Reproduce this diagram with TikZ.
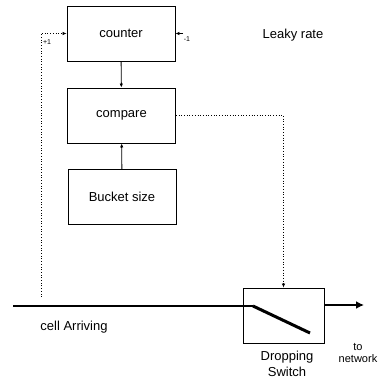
\documentclass[tikz,border=0pt]{standalone}
\usepackage{fontspec}
\setmainfont{Liberation Sans}
\usetikzlibrary{arrows.meta}
\begin{document}
\begin{tikzpicture}[x=1pt,y=-1pt,
  box/.style={draw, line width=0.9pt, minimum width=108pt, minimum height=55pt, inner sep=0pt, font=\fontsize{13}{15}\selectfont},
  lbl/.style={font=\fontsize{13}{16}\selectfont, inner sep=0pt, align=center},
  small/.style={font=\fontsize{7}{8}\selectfont, inner sep=0pt},
  dots/.style={dotted, line width=0.7pt},
  tip/.style={-{Latex[length=4pt,width=3.5pt]}},
  thick line/.style={line width=2.5pt}]
\useasboundingbox (0,0) rectangle (386,382);
\node[box] (counter) at (121,33.5) {counter};
\node[box] (compare) at (121.5,115.5) {compare};
\node[box] (bucket) at (122,197) {Bucket size};
\node[draw, line width=0.9pt, minimum width=81pt, minimum height=55pt, inner sep=0pt] (switch) at (283.5,315.5) {};
\draw[tip, line width=0.9pt] (counter) -- (compare);
\draw[tip, line width=0.9pt] (bucket) -- (compare);
\draw[dots, tip] (compare.east) -| (switch.north);
% main line
\coordinate (in) at (13,306);
\coordinate (sw1) at (253,306);
\coordinate (sw2) at (310,333);
\coordinate (out) at (364,305);
\draw[thick line] (in) -- (sw1);
\draw[line width=3pt] (sw1) -- (sw2);
\draw[thick line, -{Latex[length=8pt,width=8pt]}] (switch.east |- out) -- (out);
% feedback
\coordinate (fb) at (41,297);
\draw[dots, tip] (fb) |- (counter.west);
\coordinate (dec) at (183,33.5);
\draw[tip, line width=0.7pt] (dec) -- (counter.east);
\node[small] (plus) at (47,42) {+1};
\node[small] (minus) at (187,39) {-1};
\node[lbl] (leaky) at (293,35) {Leaky rate};
\node[lbl] (cell) at (74,327) {cell Arriving};
\node[lbl] (drop) at (287,363.5) {Dropping\\Switch};
\node[lbl, font=\fontsize{11}{12.5}\selectfont] (net) at (358,353) {to\\network};
\end{tikzpicture}
\end{document}
